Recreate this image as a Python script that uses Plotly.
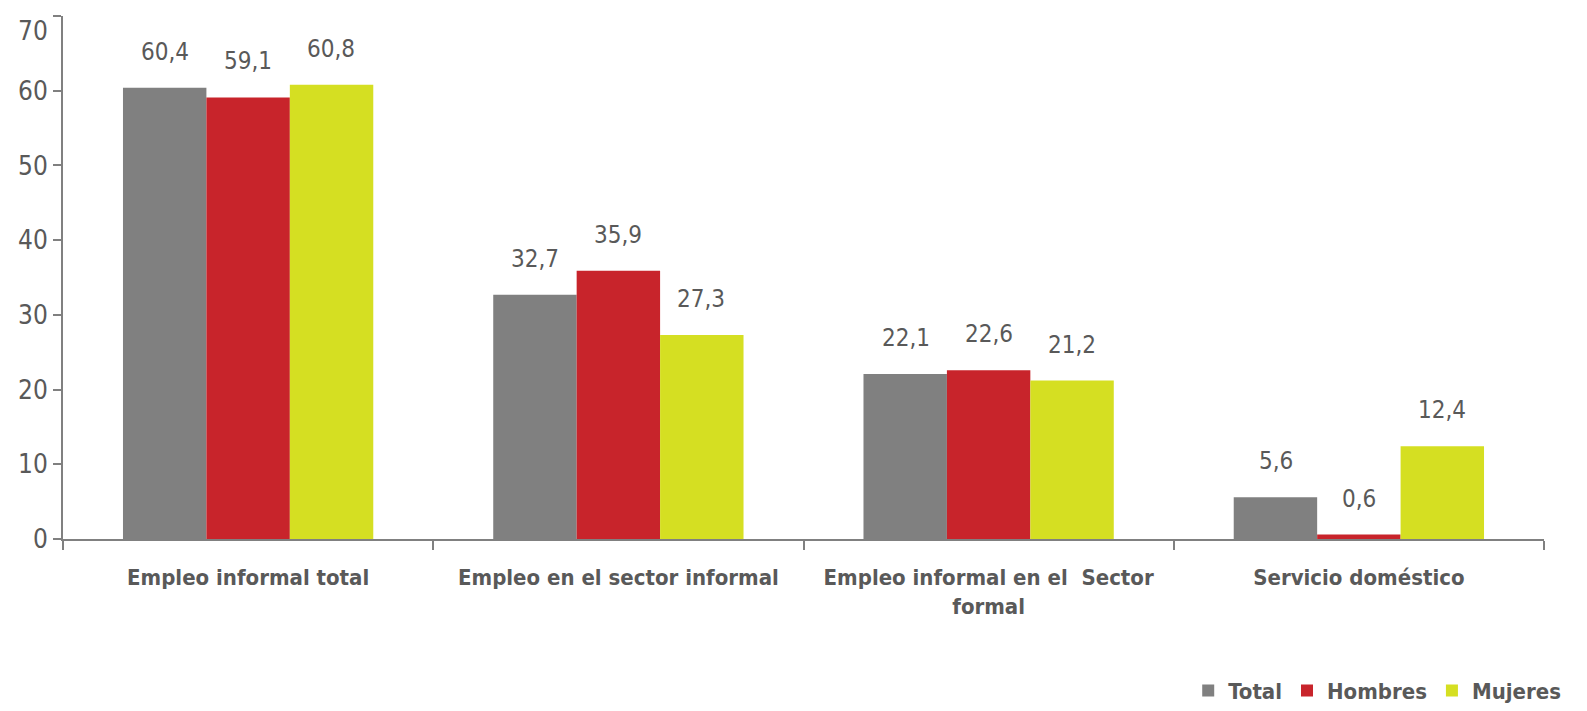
import plotly.graph_objects as go

categories = [
    "Empleo informal total",
    "Empleo en el sector informal",
    "Empleo informal en el  Sector<br>formal",
    "Servicio doméstico",
]
series_names = ["Total", "Hombres", "Mujeres"]
total = [60.4, 32.7, 22.1, 5.6]
hombres = [59.1, 35.9, 22.6, 0.6]
mujeres = [60.8, 27.3, 21.2, 12.4]
y_ticks = [0, 10, 20, 30, 40, 50, 60, 70]

colors = ["#808080", "#C8242B", "#D5DF22"]
font_family = "DejaVu Sans Condensed, Liberation Sans Narrow, sans-serif"
text_color = "#595959"

fig = go.Figure()
bar_px = 83
for i, (name, vals) in enumerate(zip(series_names, [total, hombres, mujeres])):
    fig.add_trace(go.Bar(x=categories, y=vals, name=name, marker_color=colors[i],
                         marker_line_width=0))
    for c, v in zip(categories, vals):
        fig.add_annotation(x=c, y=v, xref="x", yref="y", text=f"{v:.1f}".replace(".", ","),
                           showarrow=False, yanchor="bottom", yshift=20,
                           xshift=(i - 1) * bar_px,
                           font=dict(size=24, color=text_color, family=font_family))

# top tick label sits just below its tick (as in the original), so it isn't cut off
tick_text = [str(t) for t in y_ticks[:-1]] + [""]
fig.add_annotation(x=0, y=y_ticks[-1], xref="paper", yref="y", text=str(y_ticks[-1]),
                   showarrow=False, xanchor="right", yanchor="top", xshift=-13, yshift=2,
                   font=dict(size=26, color=text_color, family=font_family))

# page body has an 8px margin, so the figure is a bit smaller than the window
fig.update_layout(
    barmode="group",
    bargap=0.324,
    bargroupgap=0,
    plot_bgcolor="white",
    paper_bgcolor="white",
    width=1579,
    height=703,
    margin=dict(l=55, r=43, t=8, b=172, autoexpand=False),
    font=dict(family=font_family, color=text_color),
    legend=dict(orientation="h", x=1.015, xanchor="right", y=-0.29, yanchor="middle",
                font=dict(size=22, color=text_color, weight="bold"),
                itemwidth=30, tracegroupgap=0),
)
fig.update_yaxes(range=[0, 70], tickvals=y_ticks, ticktext=tick_text, showgrid=False,
                 showline=True, linecolor="#808080",
                 linewidth=2, ticks="outside", ticklen=8, tickcolor="#808080", tickwidth=2,
                 tickfont=dict(size=26, color=text_color), zeroline=False, automargin=False)
fig.update_xaxes(showgrid=False, showline=True, linecolor="#808080", linewidth=2,
                 ticks="outside", tickson="boundaries", ticklen=9, tickcolor="#808080",
                 tickwidth=2, ticklabelstandoff=18, tickangle=0, automargin=False,
                 tickfont=dict(size=22, color=text_color, weight="bold"))

fig.write_html("out.html")
